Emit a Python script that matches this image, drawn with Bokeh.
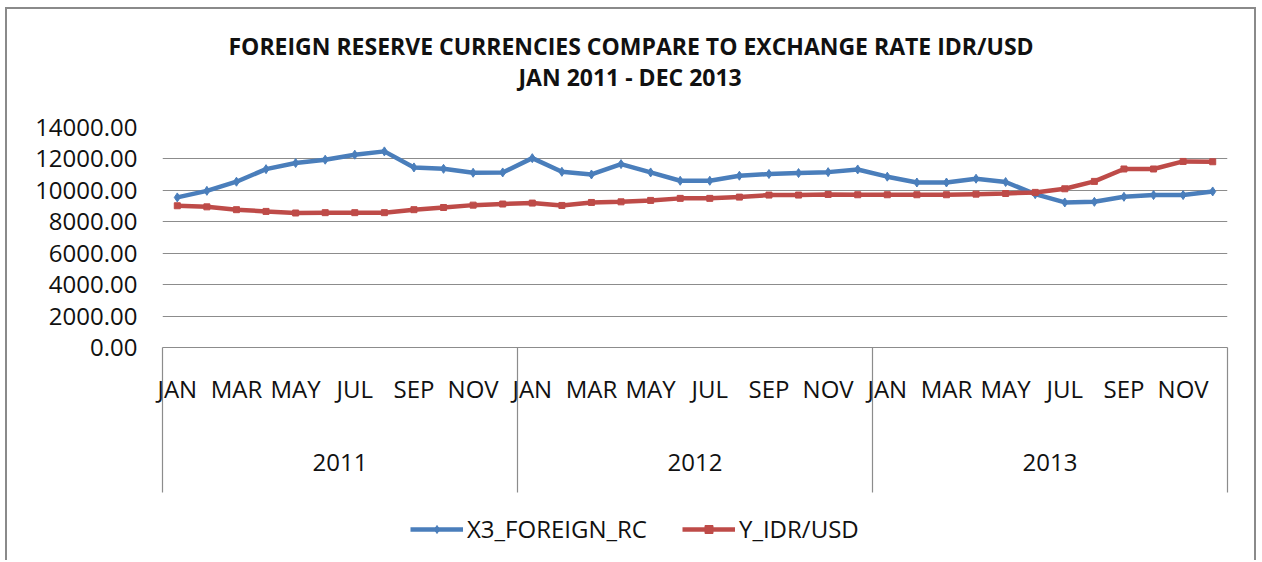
import numpy as np
from bokeh.plotting import figure
from bokeh.layouts import column
from bokeh.models import (Range1d, FixedTicker, LinearAxis, Legend, LegendItem,
                          Title, PrintfTickFormatter)
from bokeh.embed import file_html
from bokeh.resources import INLINE

# ---------------- data ----------------
months = ["JAN", "FEB", "MAR", "APR", "MAY", "JUN",
          "JUL", "AUG", "SEP", "OCT", "NOV", "DEC"]
years = ["2011", "2012", "2013"]

x3_foreign_rc = [9550, 9970, 10550, 11350, 11740, 11950, 12270, 12480, 11460, 11370, 11120, 11140,
                 12050, 11180, 11010, 11670, 11140, 10610, 10610, 10930, 11040, 11100, 11160, 11330,
                 10870, 10500, 10500, 10740, 10530, 9760, 9230, 9270, 9590, 9700, 9700, 9930]
y_idr_usd = [9020, 8950, 8770, 8660, 8560, 8580, 8580, 8580, 8770, 8910, 9060, 9130,
             9190, 9040, 9230, 9270, 9360, 9490, 9490, 9570, 9700, 9700, 9740, 9720,
             9720, 9720, 9720, 9760, 9800, 9870, 10100, 10570, 11360, 11360, 11840, 11820]

y_ticks = [0, 2000, 4000, 6000, 8000, 10000, 12000, 14000]
series_names = ["X3_FOREIGN_RC", "Y_IDR/USD"]
title_lines = ["FOREIGN RESERVE CURRENCIES COMPARE TO EXCHANGE RATE IDR/USD",
               "JAN 2011 - DEC 2013"]

# ---------------- styling ----------------
FONT = "Open Sans"
BLUE = "#4A7EBB"
RED = "#BE4B48"
GRID = "#8C8C8C"
FRAME = "2px solid #8a8a8a"
TXT = "#111111"
FS = "24px"

n = len(months) * len(years)
xs = np.arange(n) + 0.5

p = figure(width=1251, height=491, x_range=Range1d(0, n), y_range=Range1d(0, y_ticks[-1]),
           output_backend="svg", toolbar_location=None, x_axis_location=None,
           min_border_left=155, min_border_right=31, min_border_top=118, min_border_bottom=153)
p.styles = {"margin-left": "5px", "margin-top": "7px",
            "border-top": FRAME, "border-left": FRAME, "border-right": FRAME}
p.outline_line_color = None
p.background_fill_color = "white"
p.border_fill_color = "white"
for g in p.xgrid:
    g.visible = False

# y axis
yax = p.yaxis[0]
yax.ticker = FixedTicker(ticks=y_ticks)
yax.formatter = PrintfTickFormatter(format="%.2f")
yax.axis_line_color = None
yax.major_tick_line_color = None
yax.minor_tick_line_color = None
yax.major_tick_out = 0
yax.major_label_standoff = 25
yax.major_label_text_font = FONT
yax.major_label_text_font_size = FS
yax.major_label_text_color = TXT
p.ygrid[0].ticker = yax.ticker
p.ygrid[0].grid_line_color = GRID
p.ygrid[0].grid_line_width = 1.2

# month axis (year separators drawn as long minor ticks)
month_ticks = [float(v) for v in xs[::2]]
month_over = {float(t): months[int(t) % 12] for t in month_ticks}
sep_ticks = [12 * i for i in range(len(years) + 1)]
max_ax = LinearAxis(ticker=FixedTicker(ticks=month_ticks, minor_ticks=sep_ticks),
                    major_label_overrides=month_over)
max_ax.axis_line_color = GRID
max_ax.axis_line_width = 1.2
max_ax.major_tick_out = 0
max_ax.major_tick_in = 0
max_ax.major_tick_line_color = None
max_ax.minor_tick_in = 0
max_ax.minor_tick_out = 145
max_ax.minor_tick_line_color = GRID
max_ax.minor_tick_line_width = 1.2
max_ax.major_label_standoff = -121
max_ax.major_label_text_font = FONT
max_ax.major_label_text_font_size = FS
max_ax.major_label_text_color = TXT
p.add_layout(max_ax, "below")

# year axis
year_ticks = [12 * i + 6 for i in range(len(years))]
year_ax = LinearAxis(ticker=FixedTicker(ticks=year_ticks, minor_ticks=[]),
                     major_label_overrides={t: y for t, y in zip(year_ticks, years)})
year_ax.axis_line_color = None
year_ax.major_tick_line_color = None
year_ax.minor_tick_line_color = None
year_ax.major_tick_out = 0
year_ax.major_tick_in = 0
year_ax.major_label_standoff = 46
year_ax.major_label_text_font = FONT
year_ax.major_label_text_font_size = FS
year_ax.major_label_text_color = TXT
p.add_layout(year_ax, "below")

# series
p.line(xs, x3_foreign_rc, line_color=BLUE, line_width=4.5)
p.scatter(xs, x3_foreign_rc, marker="diamond", size=9, fill_color=BLUE, line_color=BLUE)
p.line(xs, y_idr_usd, line_color=RED, line_width=4.5)
p.scatter(xs, y_idr_usd, marker="square", size=6, fill_color=RED, line_color=RED)

# titles: spacer nearest the plot, then line 2, then line 1
p.add_layout(Title(text=" ", text_font_size="2px", standoff=31), "above")
p.add_layout(Title(text=title_lines[1], align="left", offset=356, standoff=0,
                   text_font=FONT, text_font_size="23px", text_font_style="bold",
                   text_color=TXT), "above")
p.add_layout(Title(text=title_lines[0], align="left", offset=66, standoff=-6,
                   text_font=FONT, text_font_size="23px", text_font_style="bold",
                   text_color=TXT), "above")

# legend strip below the chart (series drawn outside its view, only the legend shows)
pl = figure(width=1251, height=62, output_backend="svg", toolbar_location=None,
            x_range=p.x_range, y_range=Range1d(-2, -1),
            x_axis_location=None, y_axis_location=None, min_border=0)
pl.styles = {"margin-left": "5px", "border-left": FRAME, "border-right": FRAME}
pl.outline_line_color = None
pl.grid.visible = False
lg1 = pl.line(xs, x3_foreign_rc, line_color=BLUE, line_width=4.5)
sg1 = pl.scatter(xs, x3_foreign_rc, marker="diamond", size=9, fill_color=BLUE, line_color=BLUE)
lg2 = pl.line(xs, y_idr_usd, line_color=RED, line_width=4.5)
sg2 = pl.scatter(xs, y_idr_usd, marker="square", size=6, fill_color=RED, line_color=RED)
legend = Legend(items=[LegendItem(label=series_names[0], renderers=[lg1, sg1]),
                       LegendItem(label=series_names[1], renderers=[lg2, sg2])],
                orientation="horizontal", location=(248, 15),
                border_line_color=None, background_fill_alpha=0,
                glyph_width=53, glyph_height=20, label_standoff=4, spacing=35,
                padding=0, margin=0,
                label_text_font=FONT, label_text_font_size=FS,
                label_text_color=TXT)
pl.add_layout(legend, "center")

layout = column(p, pl, spacing=0)
open("out.html", "w").write(file_html(layout, INLINE))
